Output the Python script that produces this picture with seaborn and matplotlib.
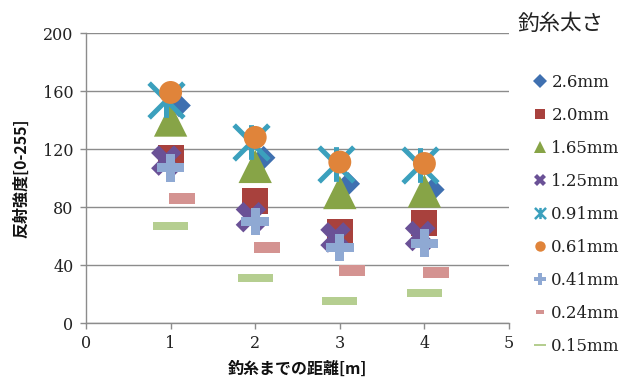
import numpy as np
import pandas as pd
import matplotlib
matplotlib.use("Agg")
import matplotlib.pyplot as plt
from matplotlib.path import Path
from matplotlib.lines import Line2D
import seaborn as sns

# ---- data -------------------------------------------------------------
distance = [1, 2, 3, 4]
thickness = ["2.6mm", "2.0mm", "1.65mm", "1.25mm", "0.91mm",
             "0.61mm", "0.41mm", "0.24mm", "0.15mm"]
v_26 = [150, 114, 96, 92]
v_20 = [114, 84, 63, 69]
v_165 = [140, 108, 90, 91]
v_125 = [112, 73, 59, 60]
v_091 = [154, 125, 110, 109]
v_061 = [159, 128, 111, 110]
v_041 = [107, 70, 52, 55]
v_024 = [86, 52, 36, 35]
v_015 = [67, 31, 15, 21]
values = [v_26, v_20, v_165, v_125, v_091, v_061, v_041, v_024, v_015]

x_ticks = [0, 1, 2, 3, 4, 5]
y_ticks = [0, 40, 80, 120, 160, 200]

# ---- marker shapes ----------------------------------------------------
star_path = Path(
    [(-1, -1), (1, 1), (-1, 1), (1, -1), (0, -1), (0, 1)],
    [Path.MOVETO, Path.LINETO, Path.MOVETO, Path.LINETO, Path.MOVETO, Path.LINETO],
)


def bar_path(h):
    return Path([(-1, -h), (1, -h), (1, h), (-1, h), (-1, -h)],
                [Path.MOVETO, Path.LINETO, Path.LINETO, Path.LINETO, Path.CLOSEPOLY])


short_dash = bar_path(0.42)
long_dash = bar_path(0.23)

colors = ["#3F70B0", "#A8413D", "#87A447", "#6A5196", "#3BA0BD",
          "#E0843A", "#8FA9D3", "#D49391", "#B5CE90"]
markers = ["D", "s", "^", "X", star_path, "o", "P", short_dash, long_dash]
sizes = [12, 18.7, 24, 22, 25, 16.5, 20, 18.7, 25]        # marker size in points
edge_w = [0, 0, 0, 0, 3.6, 0, 0, 0, 0]
x_shift = [0.1, 0, 0, -0.05, -0.05, 0, 0, 0.14, 0]
leg_sizes = [7, 7.5, 8, 9, 8, 7.5, 8, 6, 8]

# ---- figure -----------------------------------------------------------
sns.set_theme(style="white")
plt.rcParams["font.family"] = ["DejaVu Serif"]
fig = plt.figure(figsize=(6.27, 3.83), dpi=100)
ax = fig.add_axes([86 / 627, 60 / 383, 423 / 627, 290 / 383])

gray = "#8C8C8C"
rows = []
for name, vals, dx in zip(thickness, values, x_shift):
    for d, v in zip(distance, vals):
        rows.append({"thickness": name, "distance": d + dx, "intensity": v})
df = pd.DataFrame(rows)

for i, name in enumerate(thickness):
    sub = df[df["thickness"] == name]
    sns.scatterplot(data=sub, x="distance", y="intensity", ax=ax,
                    marker=markers[i], s=sizes[i] ** 2,
                    color=colors[i], edgecolor=colors[i] if edge_w[i] else "none",
                    linewidth=edge_w[i], zorder=3 + i, legend=False)

ax.set_xlim(0, 5)
ax.set_ylim(0, 200)
ax.set_xticks(x_ticks)
ax.set_yticks(y_ticks)
ax.yaxis.grid(True, color=gray, linewidth=1.0)
ax.xaxis.grid(False)
for side in ["top", "right"]:
    ax.spines[side].set_visible(False)
for side in ["left", "bottom"]:
    ax.spines[side].set_color(gray)
    ax.spines[side].set_linewidth(1.0)
ax.tick_params(axis="both", direction="out", length=4, width=1.0, color=gray,
               labelsize=11.5, labelcolor="#222222", pad=5)
ax.tick_params(axis="x", bottom=True)
ax.tick_params(axis="y", left=True)

label_font = dict(family=["Noto Sans CJK JP", "DejaVu Sans"], weight="bold", size=11.5)
ax.set_xlabel("釣糸までの距離[m]", fontdict=label_font, color="#111111")
ax.set_ylabel("反射強度[0-255]", fontdict=label_font, color="#111111")
ax.xaxis.set_label_coords(0.499, -0.13)
ax.yaxis.set_label_coords(-0.135, 0.5)

# ---- legend -----------------------------------------------------------
handles = []
for i in range(len(thickness)):
    handles.append(Line2D([], [], linestyle="none", marker=markers[i],
                          markersize=leg_sizes[i], color=colors[i],
                          markeredgecolor=colors[i] if edge_w[i] else "none",
                          markeredgewidth=1.8 if edge_w[i] else 0))
leg = ax.legend(handles, thickness, loc="upper left",
                bbox_to_anchor=(533 / 627, 1 - 74 / 383),
                bbox_transform=fig.transFigure, frameon=False,
                handlelength=0.8, handletextpad=0.3, labelspacing=0.96,
                borderpad=0, borderaxespad=0, prop={"family": "DejaVu Serif", "size": 12})
for t in leg.get_texts():
    t.set_color("#222222")

fig.text(518 / 627, 1 - 24 / 383, "釣糸太さ", ha="left", va="center",
         family=["Noto Sans CJK JP", "DejaVu Sans"], fontsize=15.5, color="#222222")

fig.savefig("out.png", dpi=100)
